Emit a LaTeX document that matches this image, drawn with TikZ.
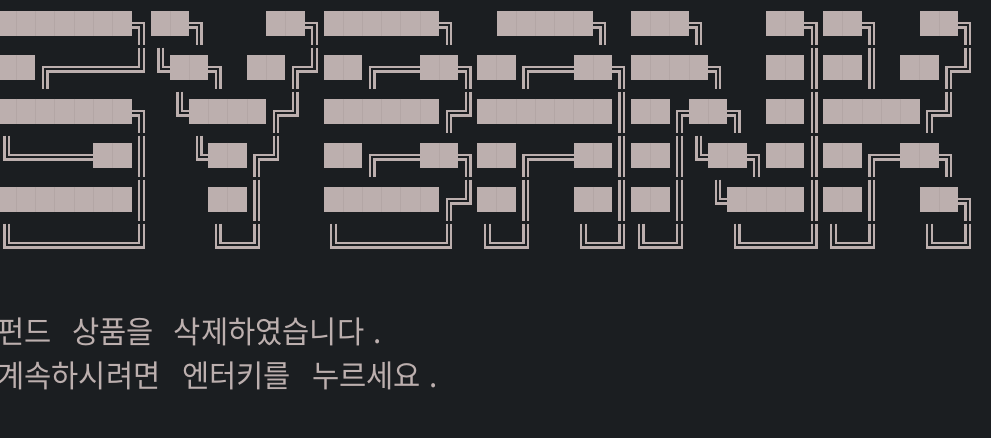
\documentclass[tikz,border=0pt]{standalone}
\usepackage{fontspec}
\newfontfamily\krfont{Noto Sans CJK KR}[FakeStretch=0.954]
\definecolor{bgcol}{HTML}{1B1E21}
\definecolor{inkcol}{HTML}{BCAFAE}
\definecolor{seamcol}{HTML}{B3A6A5}
\newcount\artcol
\newif\ifprevblock
\def\cw{19.22}
\def\xoff{-3}
\def\dd{2.3}
\newcommand\artrow[2]{\def\artr{#1}\artcol=0 \prevblockfalse\artscan#2\relax}
\def\artscan#1{\ifx#1\relax\else\artcell{#1}\advance\artcol by 1 \expandafter\artscan\fi}
\def\artcell#1{%
  \pgfmathsetmacro\xa{\xoff+\the\artcol*\cw}%
  \pgfmathsetmacro\xb{\xa+\cw}%
  \pgfmathsetmacro\xc{\xa+9.9}%
  \pgfmathsetmacro\yc{25.3+44*\artr}%
  \pgfmathsetmacro\ya{11+44*\artr}%
  \pgfmathsetmacro\yb{35.7+44*\artr}%
  \pgfmathsetmacro\yt{\yc-21.6}%
  \pgfmathsetmacro\ybt{\yc+19.7}%
  \csname artc#1\endcsname}
% full block
\expandafter\def\csname artcX\endcsname{%
  \fill[blockfill] (\xa-0.05,\ya) rectangle (\xb+0.05,\yb);
  \ifprevblock\draw[seam] (\xa,\ya) -- (\xa,\yb);\fi
  \prevblocktrue}
% space
\expandafter\def\csname artc.\endcsname{\prevblockfalse}
% double horizontal
\expandafter\def\csname artc-\endcsname{%
  \draw[boxline] (\xa,\yc-\dd) -- (\xb,\yc-\dd);
  \draw[boxline] (\xa,\yc+\dd) -- (\xb,\yc+\dd);
  \prevblockfalse}
% double vertical
\expandafter\def\csname artcI\endcsname{%
  \draw[boxline] (\xc-\dd,\yt) -- (\xc-\dd,\ybt);
  \draw[boxline] (\xc+\dd,\yt) -- (\xc+\dd,\ybt);
  \prevblockfalse}
% top right corner
\expandafter\def\csname artc7\endcsname{%
  \draw[boxline] (\xa,\yc-\dd) -- (\xc+\dd,\yc-\dd) -- (\xc+\dd,\ybt);
  \draw[boxline] (\xa,\yc+\dd) -- (\xc-\dd,\yc+\dd) -- (\xc-\dd,\ybt);
  \prevblockfalse}
% top left corner
\expandafter\def\csname artcr\endcsname{%
  \draw[boxline] (\xb,\yc-\dd) -- (\xc-\dd,\yc-\dd) -- (\xc-\dd,\ybt);
  \draw[boxline] (\xb,\yc+\dd) -- (\xc+\dd,\yc+\dd) -- (\xc+\dd,\ybt);
  \prevblockfalse}
% bottom left corner
\expandafter\def\csname artcL\endcsname{%
  \draw[boxline] (\xc-\dd,\yt) -- (\xc-\dd,\yc+\dd) -- (\xb,\yc+\dd);
  \draw[boxline] (\xc+\dd,\yt) -- (\xc+\dd,\yc-\dd) -- (\xb,\yc-\dd);
  \prevblockfalse}
% bottom right corner
\expandafter\def\csname artcJ\endcsname{%
  \draw[boxline] (\xc+\dd,\yt) -- (\xc+\dd,\yc+\dd) -- (\xa,\yc+\dd);
  \draw[boxline] (\xc-\dd,\yt) -- (\xc-\dd,\yc-\dd) -- (\xa,\yc-\dd);
  \prevblockfalse}
\begin{document}
\begin{tikzpicture}[x=1pt,y=-1pt,
  blockfill/.style={fill=inkcol},
  seam/.style={draw=seamcol,line width=0.5pt},
  boxline/.style={draw=inkcol,line width=2.3pt,line cap=butt,line join=miter},
  krtext/.style={font=\krfont\fontsize{31}{36}\selectfont,text=inkcol,inner sep=0pt,anchor=base west},
  krdot/.style={font=\krfont\fontsize{31}{36}\selectfont,text=inkcol,inner sep=0pt,anchor=base}]
\fill[bgcol] (0,0) rectangle (991,438);
\useasboundingbox (0,0) rectangle (991,438);
% banner "SYBANK" in ANSI-shadow style
\artrow{0}{XXXXXXX7XX7...XX7XXXXXX7..XXXXX7.XXX7...XX7XX7..XX7}
\artrow{1}{XXr----JLXX7.XXrJXXr--XX7XXr--XX7XXXX7..XXIXXI.XXrJ}
\artrow{2}{XXXXXXX7.LXXXXrJ.XXXXXXrJXXXXXXXIXXrXX7.XXIXXXXXrJ.}
\artrow{3}{L----XXI..LXXrJ..XXr--XX7XXr--XXIXXILXX7XXIXXr-XX7.}
\artrow{4}{XXXXXXXI...XXI...XXXXXXrJXXI..XXIXXI.LXXXXIXXI..XX7}
\artrow{5}{L------J...L-J...L-----J.L-J..L-JL-J..L---JL-J..L-J}
% message lines
\node[krtext] (m1a) at (-3,343.5) {펀드};
\node[krtext] (m1b) at (72,343.5) {상품을};
\node[krtext] (m1c) at (173.7,343.5) {삭제하였습니다};
\node[krdot]  (m1d) at (377.5,343.5) {.};
\node[krtext] (m2a) at (-3,387.5) {계속하시려면};
\node[krtext] (m2b) at (182,387.5) {엔터키를};
\node[krtext] (m2c) at (312,387.5) {누르세요};
\node[krdot]  (m2d) at (433.3,387.5) {.};
\end{tikzpicture}
\end{document}
